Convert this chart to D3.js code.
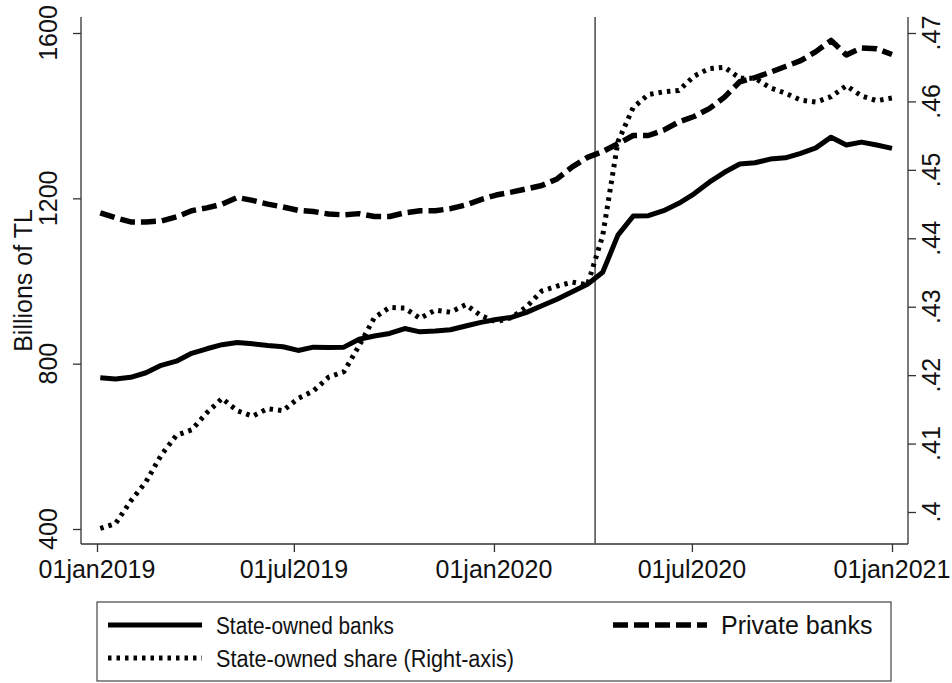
<!DOCTYPE html>
<html>
<head>
<meta charset="utf-8">
<script src="https://cdn.jsdelivr.net/npm/d3@7"></script>
<style>
body{margin:0;background:#fff}
text{font-family:"Liberation Sans",Arial,sans-serif;fill:#111}
</style>
</head>
<body>
<svg id="chart" width="952" height="683"></svg>
<script>
// biweekly observations, first friday of 2019 to first friday of 2021
const startDate = new Date(2019,0,4)
const dates = d3.range(53).map(i=>d3.timeDay.offset(startDate,14*i))

// billions of TL
const stateBanks = [766,763,767,778,796,806,825,836,846,851,848,844,841,832,840,839,840,859,867,873,885,877,879,882,891,900,907,912,924,940,956,974,992,1021,1111,1157,1158,1170,1188,1211,1239,1263,1283,1286,1295,1298,1309,1322,1348,1329,1336,1329,1321]
const privateBanks = [1165,1153,1143,1143,1145,1155,1170,1177,1186,1202,1195,1186,1179,1171,1168,1162,1160,1163,1156,1156,1165,1170,1170,1175,1184,1197,1208,1215,1223,1231,1247,1276,1299,1313,1332,1352,1352,1365,1385,1398,1417,1445,1482,1492,1505,1519,1533,1555,1582,1547,1564,1562,1548]
// state-owned share, right axis
const stateShare = [.3976,.3983,.4016,.4044,.4083,.4112,.4120,.4145,.4166,.4148,.4140,.4151,.4148,.4166,.4177,.4197,.4205,.4243,.4284,.4299,.4298,.4283,.4295,.4292,.4303,.4287,.4278,.4284,.4300,.4323,.4330,.4336,.4332,.4404,.4541,.4591,.4610,.4614,.4616,.4637,.4648,.4650,.4634,.4634,.4620,.4612,.4602,.4599,.4607,.4623,.4608,.4601,.4605]

const xTicks = [new Date(2019,0,1),new Date(2019,6,1),new Date(2020,0,1),new Date(2020,6,1),new Date(2021,0,1)]
const leftTicks = [400,800,1200,1600]
const rightTicks = [.4,.41,.42,.43,.44,.45,.46,.47]
const eventDate = new Date(2020,3,3)

const legendLabels = ["State-owned banks","Private banks","State-owned share (Right-axis)"]

const frame = {left:81, right:908, top:17, bottom:544}

const x = d3.scaleTime().domain([xTicks[0],xTicks[4]]).range([97,892])
const yL = d3.scaleLinear().domain([400,1600]).range([529,33])
const yR = d3.scaleLinear().domain([.4,.47]).range([512,33])

const svg = d3.select("#chart")
svg.append("rect").attr("width",952).attr("height",683).attr("fill","#fff")

// axis lines (no top border)
const axisCol = "#333"
svg.append("line").attr("x1",frame.left).attr("x2",frame.left).attr("y1",frame.top).attr("y2",frame.bottom)
  .attr("stroke",axisCol).attr("stroke-width",1.3)
svg.append("line").attr("x1",frame.right).attr("x2",frame.right).attr("y1",frame.top).attr("y2",frame.bottom)
  .attr("stroke",axisCol).attr("stroke-width",1.3)
svg.append("line").attr("x1",frame.left).attr("x2",frame.right).attr("y1",frame.bottom).attr("y2",frame.bottom)
  .attr("stroke",axisCol).attr("stroke-width",1.3)

// ticks via d3 axes, labels drawn separately (rotated like stata)
const leftAxis = svg.append("g").attr("transform",`translate(${frame.left},0)`)
  .call(d3.axisLeft(yL).tickValues(leftTicks).tickSize(8).tickFormat(""))
const rightAxis = svg.append("g").attr("transform",`translate(${frame.right},0)`)
  .call(d3.axisRight(yR).tickValues(rightTicks).tickSize(8).tickFormat(""))
const bottomAxis = svg.append("g").attr("transform",`translate(0,${frame.bottom})`)
  .call(d3.axisBottom(x).tickValues(xTicks).tickSize(8).tickFormat(""))
;[leftAxis,rightAxis,bottomAxis].forEach(g=>{
  g.select(".domain").remove()
  g.selectAll(".tick line").attr("stroke",axisCol).attr("stroke-width",1.3)
})

svg.selectAll(".lt").data(leftTicks).join("text").attr("class","lt")
  .attr("transform",d=>`translate(57,${yL(d)}) rotate(-90)`)
  .attr("text-anchor","middle").style("font-size","25px").text(d=>d)

svg.selectAll(".rt").data(rightTicks).join("text").attr("class","rt")
  .attr("transform",d=>`translate(940,${yR(d)}) rotate(-90)`)
  .attr("text-anchor","middle").style("font-size","25px")
  .text(d=>String(+d.toFixed(2)).replace(/^0/,""))

const fmt = d3.timeFormat("%d%b%Y")
svg.selectAll(".xt").data(xTicks).join("text").attr("class","xt")
  .attr("x",d=>x(d)).attr("y",578)
  .attr("text-anchor","middle").style("font-size","25px")
  .text(d=>fmt(d).toLowerCase())

svg.append("text").attr("transform",`translate(32,${(frame.top+frame.bottom)/2}) rotate(-90)`)
  .attr("text-anchor","middle").style("font-size","25px").text("Billions of TL")

// event line
svg.append("line").attr("x1",x(eventDate)).attr("x2",x(eventDate))
  .attr("y1",frame.top).attr("y2",frame.bottom)
  .attr("stroke","#555").attr("stroke-width",1.6)

const styles = [
  {dash:null, width:5},
  {dash:"15,6", width:5.5},
  {dash:"3.5,5", width:5}
]

const lineL = d3.line().x((d,i)=>x(dates[i])).y(d=>yL(d))
const lineR = d3.line().x((d,i)=>x(dates[i])).y(d=>yR(d))

const series = [
  {vals:stateBanks, gen:lineL, st:styles[0]},
  {vals:privateBanks, gen:lineL, st:styles[1]},
  {vals:stateShare, gen:lineR, st:styles[2]}
]
series.forEach(s=>{
  svg.append("path").attr("d",s.gen(s.vals))
    .attr("fill","none").attr("stroke","#000")
    .attr("stroke-width",s.st.width)
    .attr("stroke-linejoin","round")
    .attr("stroke-dasharray",s.st.dash)
})

// legend
const legend = svg.append("g")
legend.append("rect").attr("x",97).attr("y",602).attr("width",794).attr("height",79)
  .attr("fill","#fff").attr("stroke","#444").attr("stroke-width",1.2)
const legPos = [{kx:108, ty:625, w:178, fs:23}, {kx:613, ty:625, w:null, fs:25}, {kx:108, ty:658, w:298, fs:23}]
legendLabels.forEach((lab,i)=>{
  const p = legPos[i]
  legend.append("line").attr("x1",p.kx).attr("x2",p.kx+94).attr("y1",p.ty).attr("y2",p.ty)
    .attr("stroke","#000").attr("stroke-width",styles[i].width)
    .attr("stroke-dasharray",styles[i].dash)
  const t = legend.append("text").attr("x",p.kx+108).attr("y",p.ty+8.5)
    .style("font-size",p.fs+"px").text(lab)
  if (p.w) t.attr("textLength",p.w).attr("lengthAdjust","spacingAndGlyphs")
})
</script>
</body>
</html>
